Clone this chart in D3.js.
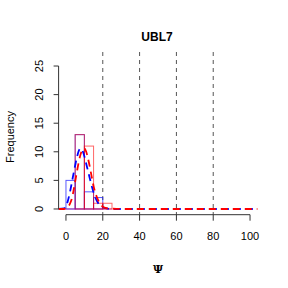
<!DOCTYPE html>
<html>
<head>
<meta charset="utf-8">
<script src="https://cdn.jsdelivr.net/npm/d3@7"></script>
<style>
  body { margin: 0; background: #fff; }
  svg { display: block; font-family: "Liberation Sans", Arial, sans-serif; }
</style>
</head>
<body>
<svg id="chart" width="288" height="288"></svg>
<script>
// 直方圖的組距 (寬度 5)
const binStarts = [0, 5, 10, 15, 20];
const blueCounts = [5, 13, 3, 2, 0];
const redCounts = [0, 13, 11, 1, 1];

// 虛線密度曲線 (已換算成次數)
const curveX = [-4, -1, 0, 1, 2, 3, 4, 5, 6, 7, 8, 9, 10, 11, 12, 13, 14, 15, 16, 17, 18, 19, 20, 22, 25, 30, 40, 60, 80, 104];
const blueCurve = [0, 0.1, 0.5, 1.4, 2.7, 4.3, 6.0, 7.6, 9.1, 10.2, 10.6, 10.2, 9.2, 7.9, 6.6, 5.3, 4.0, 2.9, 2.0, 1.3, 0.8, 0.5, 0.3, 0.1, 0, 0, 0, 0, 0, 0];
const redCurve = [0, 0, 0.1, 0.3, 0.8, 1.6, 3.0, 4.8, 6.6, 8.3, 9.6, 10.4, 10.6, 10.0, 8.8, 7.3, 5.6, 4.0, 2.8, 1.9, 1.2, 0.7, 0.4, 0.15, 0.05, 0, 0, 0, 0, 0];

const yTicks = [0, 5, 10, 15, 20, 25];
const xTicks = [0, 20, 40, 60, 80, 100];
const refLines = [20, 40, 60, 80];

const svg = d3.select('#chart');

const x = d3.scaleLinear().domain([-4, 104]).range([58.6, 257.4]);
const y = d3.scaleLinear().domain([-1, 26]).range([214.7, 60.3]);

// 標題
svg.append('text')
  .attr('x', 157).attr('y', 41)
  .attr('text-anchor', 'middle')
  .attr('font-size', 12).attr('font-weight', 'bold')
  .text('UBL7');

// 灰色虛線參考線
svg.append('g')
  .selectAll('line')
  .data(refLines)
  .join('line')
  .attr('x1', d => x(d)).attr('x2', d => x(d))
  .attr('y1', 52).attr('y2', y(-1))
  .attr('stroke', '#555')
  .attr('stroke-width', 1)
  .attr('stroke-dasharray', '4,4');

// 直方圖：藍色、紅色外框
function drawBars(counts, color) {
  svg.append('g')
    .selectAll('rect')
    .data(binStarts.map((b, i) => ({ b, c: counts[i] })).filter(d => d.c > 0))
    .join('rect')
    .attr('x', d => x(d.b))
    .attr('width', d => x(d.b + 5) - x(d.b))
    .attr('y', d => y(d.c))
    .attr('height', d => y(0) - y(d.c))
    .attr('fill', 'none')
    .attr('stroke', color)
    .attr('stroke-width', 1);
}
drawBars(blueCounts, 'rgba(0,0,255,0.65)');
drawBars(redCounts, 'rgba(255,0,0,0.6)');

// 基準線
svg.append('line')
  .attr('x1', x(0)).attr('x2', x(25))
  .attr('y1', y(0)).attr('y2', y(0))
  .attr('stroke', 'rgba(180,0,120,0.6)');

// 密度曲線
const line = d3.line()
  .x((d, i) => x(curveX[i]))
  .y(d => y(d))
  .curve(d3.curveMonotoneX);

svg.append('path')
  .datum(blueCurve)
  .attr('d', line)
  .attr('fill', 'none')
  .attr('stroke', 'blue')
  .attr('stroke-width', 1.8)
  .attr('stroke-dasharray', '7,5');

svg.append('path')
  .datum(redCurve)
  .attr('d', line)
  .attr('fill', 'none')
  .attr('stroke', 'red')
  .attr('stroke-width', 1.8)
  .attr('stroke-dasharray', '7,5');

// Y 軸
const yAxis = svg.append('g')
  .attr('transform', `translate(${x(-4)},0)`);
yAxis.append('line')
  .attr('y1', y(0)).attr('y2', y(25))
  .attr('stroke', '#333');
yAxis.selectAll('line.tick')
  .data(yTicks)
  .join('line')
  .attr('class', 'tick')
  .attr('x1', 0).attr('x2', -5)
  .attr('y1', d => y(d)).attr('y2', d => y(d))
  .attr('stroke', '#333');
yAxis.selectAll('text')
  .data(yTicks)
  .join('text')
  .attr('transform', d => `translate(-19,${y(d)}) rotate(-90)`)
  .attr('text-anchor', 'middle')
  .attr('dy', '0.35em')
  .attr('font-size', 11)
  .text(d => d);

svg.append('text')
  .attr('transform', 'translate(14,137) rotate(-90)')
  .attr('text-anchor', 'middle')
  .attr('font-size', 11)
  .text('Frequency');

// X 軸
const xAxis = svg.append('g')
  .attr('transform', `translate(0,${y(-1)})`);
xAxis.append('line')
  .attr('x1', x(0)).attr('x2', x(100))
  .attr('stroke', '#333');
xAxis.selectAll('line.tick')
  .data(xTicks)
  .join('line')
  .attr('class', 'tick')
  .attr('x1', d => x(d)).attr('x2', d => x(d))
  .attr('y1', 0).attr('y2', 6)
  .attr('stroke', '#333');
xAxis.selectAll('text')
  .data(xTicks)
  .join('text')
  .attr('x', d => x(d))
  .attr('y', 25)
  .attr('text-anchor', 'middle')
  .attr('font-size', 11)
  .text(d => d);

svg.append('text')
  .attr('x', 158).attr('y', 273)
  .attr('text-anchor', 'middle')
  .attr('font-size', 11)
  .attr('font-family', '"DejaVu Serif", serif')
  .attr('font-weight', 'bold')
  .text('Ψ');
</script>
</body>
</html>
